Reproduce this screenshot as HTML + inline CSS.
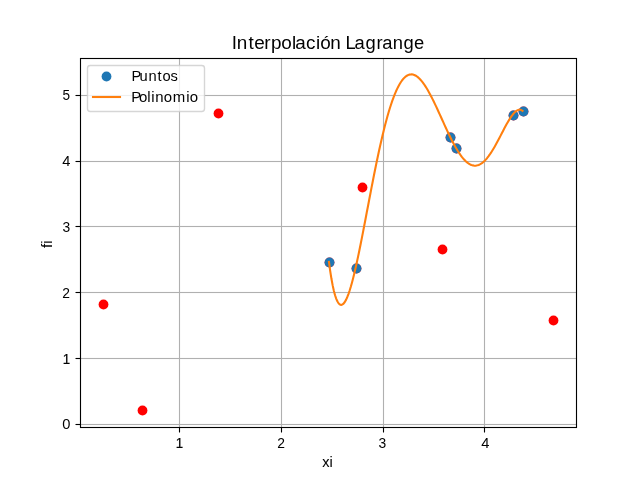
<!DOCTYPE html>
<html><head><meta charset="utf-8"><title>Interpolación Lagrange</title>
<style>
html,body{margin:0;padding:0;background:#fff;overflow:hidden}
svg{display:block}
text{font-family:"Liberation Sans",sans-serif;fill:#000}
</style></head>
<body>
<svg width="640" height="480" viewBox="0 0 640 480">
<rect x="0" y="0" width="640" height="480" fill="#fff"/>
<g stroke="#b0b0b0" stroke-width="1.11" fill="none">
<line x1="179.5" y1="58" x2="179.5" y2="427.5"/>
<line x1="281.5" y1="58" x2="281.5" y2="427.5"/>
<line x1="383.5" y1="58" x2="383.5" y2="427.5"/>
<line x1="484.5" y1="58" x2="484.5" y2="427.5"/>
</g>
<g fill="#b0b0b0">
<rect x="80.5" y="423.94" width="496" height="1.11"/>
<rect x="80.5" y="357.94" width="496" height="1.11"/>
<rect x="80.5" y="291.94" width="496" height="1.11"/>
<rect x="80.5" y="225.94" width="496" height="1.11"/>
<rect x="80.5" y="160.94" width="496" height="1.11"/>
<rect x="80.5" y="94.94" width="496" height="1.11"/>
</g>
<g fill="#ff0000">
<circle cx="103.5" cy="304.5" r="4.92"/>
<circle cx="142.5" cy="410.5" r="4.92"/>
<circle cx="218.5" cy="113.5" r="4.92"/>
<circle cx="362.5" cy="187.5" r="4.92"/>
<circle cx="442.5" cy="249.5" r="4.92"/>
<circle cx="553.5" cy="320.5" r="4.92"/>
<circle cx="329.5" cy="262.5" r="4.92"/>
<circle cx="356.5" cy="268.5" r="4.92"/>
<circle cx="450.5" cy="137.5" r="4.92"/>
<circle cx="456.5" cy="148.5" r="4.92"/>
<circle cx="513.5" cy="115.5" r="4.92"/>
<circle cx="523.5" cy="111.5" r="4.92"/>
</g>
<g fill="#1f77b4">
<circle cx="329.5" cy="262.5" r="4.92"/>
<circle cx="356.5" cy="268.5" r="4.92"/>
<circle cx="450.5" cy="137.5" r="4.92"/>
<circle cx="456.5" cy="148.5" r="4.92"/>
<circle cx="513.5" cy="115.5" r="4.92"/>
<circle cx="523.5" cy="111.5" r="4.92"/>
</g>
<path d="M328.97 261.99 L330.18 270.85 L331.4 278.55 L332.62 285.14 L333.84 290.68 L335.05 295.22 L336.27 298.83 L337.49 301.55 L338.7 303.44 L339.92 304.53 L341.14 304.89 L342.36 304.56 L343.57 303.58 L344.79 302 L346.01 299.86 L347.23 297.21 L348.44 294.07 L349.66 290.49 L350.88 286.51 L352.09 282.17 L353.31 277.49 L354.53 272.51 L355.75 267.27 L356.96 261.79 L358.18 256.1 L359.4 250.24 L360.61 244.23 L361.83 238.1 L363.05 231.86 L364.27 225.56 L365.48 219.2 L366.7 212.82 L367.92 206.43 L369.14 200.05 L370.35 193.71 L371.57 187.41 L372.79 181.18 L374 175.03 L375.22 168.98 L376.44 163.05 L377.66 157.23 L378.87 151.56 L380.09 146.03 L381.31 140.67 L382.52 135.47 L383.74 130.45 L384.96 125.62 L386.18 120.99 L387.39 116.55 L388.61 112.32 L389.83 108.31 L391.05 104.51 L392.26 100.93 L393.48 97.57 L394.7 94.44 L395.91 91.54 L397.13 88.87 L398.35 86.43 L399.57 84.22 L400.78 82.24 L402 80.48 L403.22 78.96 L404.43 77.66 L405.65 76.58 L406.87 75.72 L408.09 75.07 L409.3 74.64 L410.52 74.42 L411.74 74.4 L412.96 74.57 L414.17 74.94 L415.39 75.5 L416.61 76.23 L417.82 77.14 L419.04 78.21 L420.26 79.45 L421.48 80.84 L422.69 82.37 L423.91 84.04 L425.13 85.84 L426.34 87.76 L427.56 89.79 L428.78 91.92 L430 94.16 L431.21 96.47 L432.43 98.87 L433.65 101.33 L434.87 103.86 L436.08 106.43 L437.3 109.05 L438.52 111.69 L439.73 114.37 L440.95 117.05 L442.17 119.74 L443.39 122.43 L444.6 125.11 L445.82 127.76 L447.04 130.38 L448.25 132.97 L449.47 135.51 L450.69 137.99 L451.91 140.41 L453.12 142.76 L454.34 145.03 L455.56 147.21 L456.78 149.3 L457.99 151.29 L459.21 153.18 L460.43 154.95 L461.64 156.61 L462.86 158.13 L464.08 159.54 L465.3 160.8 L466.51 161.93 L467.73 162.91 L468.95 163.75 L470.16 164.44 L471.38 164.98 L472.6 165.37 L473.82 165.6 L475.03 165.67 L476.25 165.59 L477.47 165.34 L478.69 164.95 L479.9 164.39 L481.12 163.69 L482.34 162.83 L483.55 161.82 L484.77 160.67 L485.99 159.38 L487.21 157.96 L488.42 156.41 L489.64 154.73 L490.86 152.94 L492.07 151.05 L493.29 149.05 L494.51 146.97 L495.73 144.81 L496.94 142.59 L498.16 140.31 L499.38 137.99 L500.6 135.64 L501.81 133.28 L503.03 130.93 L504.25 128.6 L505.46 126.31 L506.68 124.08 L507.9 121.92 L509.12 119.86 L510.33 117.93 L511.55 116.13 L512.77 114.51 L513.98 113.08 L515.2 111.87 L516.42 110.9 L517.64 110.21 L518.85 109.82 L520.07 109.77 L521.29 110.09 L522.51 110.81" fill="none" stroke="#ff7f0e" stroke-width="2.08" stroke-linejoin="round" stroke-linecap="square"/>
<g stroke="#000" stroke-width="1.11" fill="none">
<rect x="80.5" y="58.5" width="496" height="369" />
<line x1="179.5" y1="427.5" x2="179.5" y2="432.5"/>
<line x1="281.5" y1="427.5" x2="281.5" y2="432.5"/>
<line x1="383.5" y1="427.5" x2="383.5" y2="432.5"/>
<line x1="484.5" y1="427.5" x2="484.5" y2="432.5"/>
<line x1="75.5" y1="424.5" x2="80.5" y2="424.5"/>
<line x1="75.5" y1="358.5" x2="80.5" y2="358.5"/>
<line x1="75.5" y1="292.5" x2="80.5" y2="292.5"/>
<line x1="75.5" y1="226.5" x2="80.5" y2="226.5"/>
<line x1="75.5" y1="161.5" x2="80.5" y2="161.5"/>
<line x1="75.5" y1="95.5" x2="80.5" y2="95.5"/>
</g>
<rect x="87.5" y="65.5" width="117" height="46" rx="2.78" ry="2.78" fill="#fff" fill-opacity="0.8" stroke="#ccc" stroke-opacity="0.8" stroke-width="1.39"/>
<circle cx="106.5" cy="76.5" r="4.92" fill="#1f77b4"/>
<rect x="91.954" y="95.96" width="29.092" height="2.087" fill="#ff7f0e"/>
<g style="opacity:0.999">
<text transform="translate(232 49) scale(1.1000 1.0300)" font-size="17.2" x="-0.12 4.3 14.95 20.21 29.44 35.48 44.76 54.45 57.58 67.38 76.28 80.22 89.3">Interpolación</text>
<text transform="translate(346.25 49) scale(1.0700 1.0200)" font-size="17.2" x="-0.76 7.7 18.07 28.22 33.73 43.57 53.59 63.22">Lagrange</text>
<text transform="translate(322.25 467) scale(1.0100 1.0000)" font-size="14.4" stroke="#000" stroke-width="0.05">xi</text>
<text transform="translate(52 248) rotate(-90) scale(1.0400 0.9700)" font-size="14.4">fi</text>
<text transform="translate(132 81) scale(1.0200 0.9600)" font-size="14.4" x="-0.53 7.3 16.08 24.9 29.82 37.64">Puntos</text>
<text transform="translate(132 102) scale(1.0400 0.9600)" font-size="14.4" x="-0.62 6.78 14.74 18.6 22.43 30.61 39.19 52.25 55.61">Polinomio</text>
<text transform="translate(175.75 448) scale(0.9500 0.9800)" font-size="14" stroke="#000" stroke-width="0.25">1</text>
<text transform="translate(277.25 448) scale(0.9900 0.9800)" font-size="14">2</text>
<text transform="translate(378.5 448) scale(0.9900 0.9800)" font-size="14">3</text>
<text transform="translate(481.25 448) scale(1.0500 1.0100)" font-size="14">4</text>
<text transform="translate(62.25 429) scale(1.0500 0.9800)" font-size="14">0</text>
<text transform="translate(62.75 364) scale(0.9500 0.9800)" font-size="14" stroke="#000" stroke-width="0.25">1</text>
<text transform="translate(62.25 298) scale(0.9900 0.9800)" font-size="14">2</text>
<text transform="translate(62.5 232) scale(0.9900 0.9800)" font-size="14">3</text>
<text transform="translate(62.25 166) scale(1.0500 1.0100)" font-size="14">4</text>
<text transform="translate(62.5 100) scale(0.9700 0.9800)" font-size="14">5</text>
</g>
</svg>
</body></html>
